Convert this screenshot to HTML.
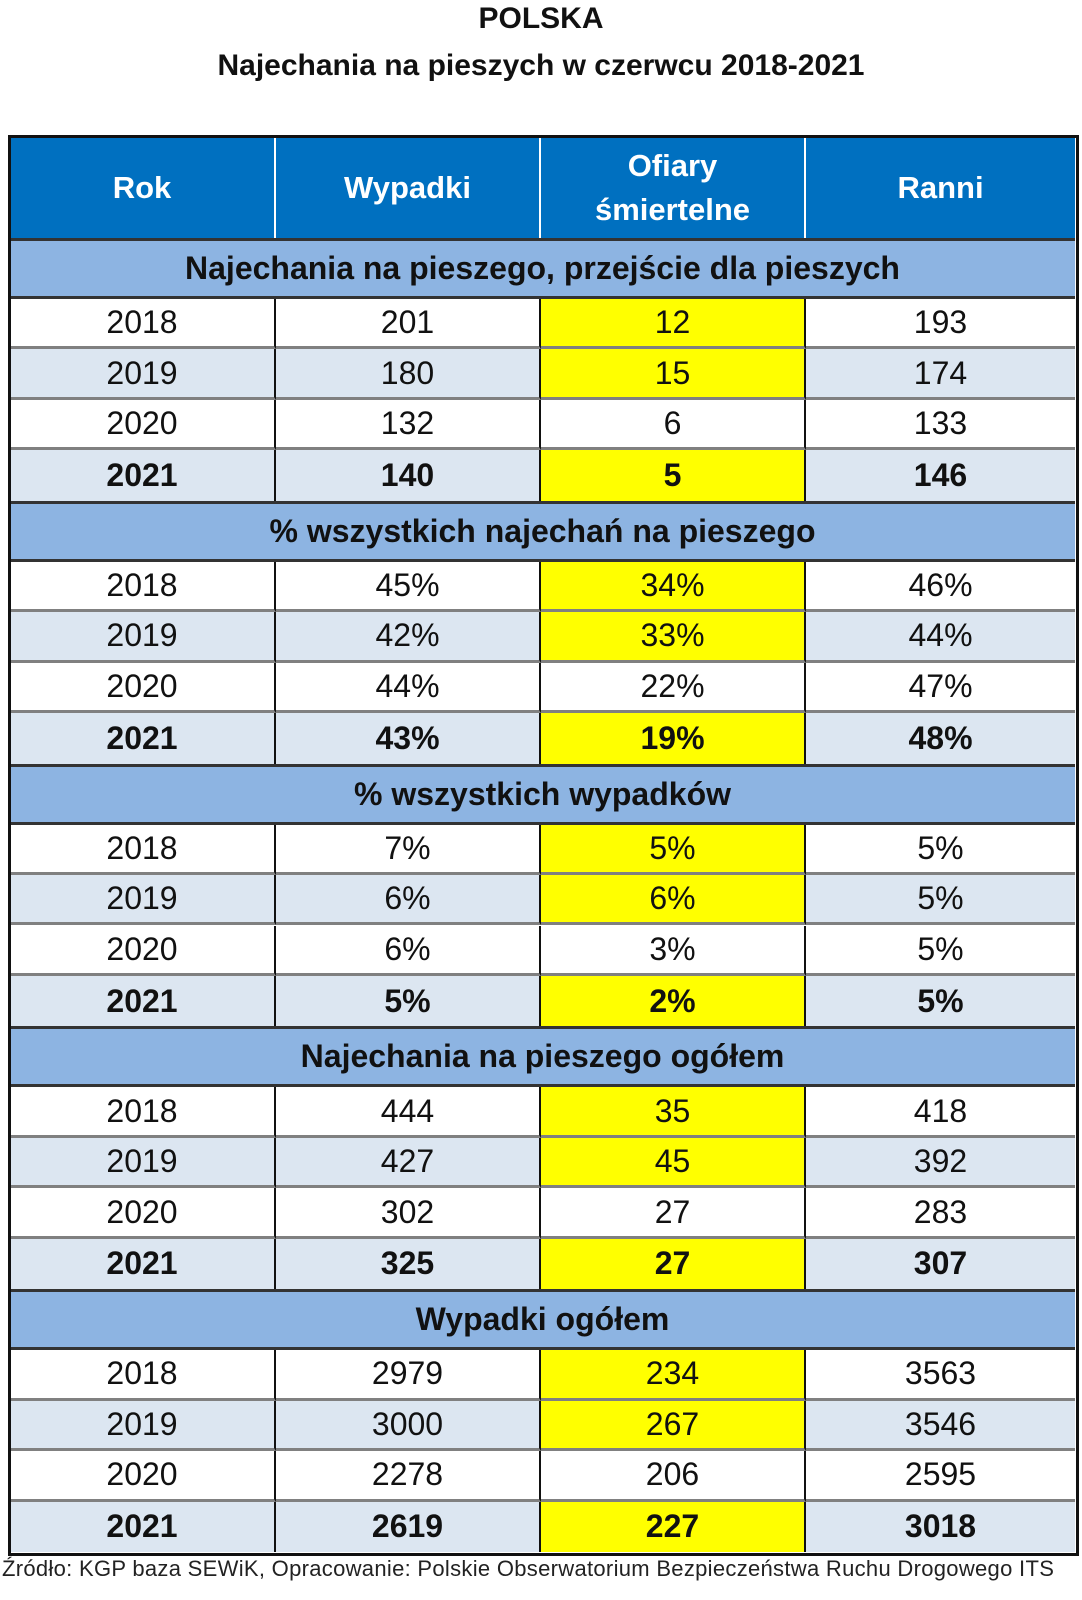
<!DOCTYPE html>
<html><head><meta charset="utf-8">
<style>
body{margin:0;width:1082px;height:1600px;background:#fff;position:relative;overflow:hidden;font-family:"Liberation Sans","DejaVu Sans",sans-serif;}
.t{position:absolute;left:0;width:1082px;text-align:center;font-weight:bold;font-size:30px;color:#111;}
.c{position:absolute;box-sizing:border-box;display:flex;align-items:center;justify-content:center;text-align:center;color:#111;font-size:32px;}
.src{position:absolute;left:2px;top:1556px;font-size:22px;letter-spacing:0.3px;color:#222;white-space:nowrap;}
</style></head><body>
<div class="t" style="top:2px">POLSKA</div>
<div class="t" style="top:49px">Najechania na pieszych w czerwcu 2018-2021</div>
<div id="tbl"></div>
<div class="src">Źródło: KGP baza SEWiK, Opracowanie: Polskie Obserwatorium Bezpieczeństwa Ruchu Drogowego ITS</div>
<script>
const headers=["Rok","Wypadki","Ofiary<br>śmiertelne","Ranni"];
const sections=["Najechania na pieszego, przejście dla pieszych","% wszystkich najechań na pieszego","% wszystkich wypadków","Najechania na pieszego ogółem","Wypadki ogółem"];
const years=["2018","2019","2020","2021"];
const wypadki=[["201","180","132","140"],["45%","42%","44%","43%"],["7%","6%","6%","5%"],["444","427","302","325"],["2979","3000","2278","2619"]];
const ofiary=[["12","15","6","5"],["34%","33%","22%","19%"],["5%","6%","3%","2%"],["35","45","27","27"],["234","267","206","227"]];
const ranni=[["193","174","133","146"],["46%","44%","47%","48%"],["5%","5%","5%","5%"],["418","392","283","307"],["3563","3546","2595","3018"]];
const tbl=document.getElementById('tbl');
const X=[10,276,541,806,1075];
const top0=137,hdrH=101,secH=61,rowH=50.45;
function cell(x,y,w,h,html,style,name){
  const d=document.createElement('div');d.className='c';
  d.style.cssText=`left:${x}px;top:${y}px;width:${w}px;height:${h}px;`+style;
  d.innerHTML=html;
  
  
  tbl.appendChild(d);return d;
}
for(let i=0;i<4;i++){
  cell(X[i],top0,X[i+1]-X[i],hdrH,headers[i],"background:#0070c0;color:#fff;font-weight:bold;font-size:31px;line-height:44px;"+(i<3?"border-right:2px solid #fff;":""),'header-cell');
}
let y=top0+hdrH;
for(let s=0;s<5;s++){
  cell(X[0],y,X[4]-X[0],secH,sections[s],"background:#8db4e2;font-weight:bold;font-size:32px;border-top:3px solid #333;border-bottom:3px solid #333;",'section-header');
  y+=secH;
  for(let r=0;r<4;r++){
    const shade=(r%2===1)?"#dce6f1":"#fff";
    const bold=r===3?"font-weight:bold;":"";
    const vals=[years[r],wypadki[s][r],ofiary[s][r],ranni[s][r]];
    for(let i=0;i<4;i++){
      let bg=shade;
      if(i===2&&r!==2)bg="#ffff00";
      let st=`background:${bg};${bold}`+(r<3?"border-bottom:3px solid #808080;":"")+(i<3?"border-right:2px solid #111;":"");
      cell(X[i],y,X[i+1]-X[i],rowH,vals[i],st,'data-cell');
    }
    y+=rowH;
  }
}
const b=document.createElement('div');
b.style.cssText=`position:absolute;left:${X[0]-2}px;top:${top0-2}px;width:${X[4]-X[0]}px;height:${y-top0}px;border:3px solid #111;box-sizing:content-box;`;


tbl.appendChild(b);
</script>
</body></html>
